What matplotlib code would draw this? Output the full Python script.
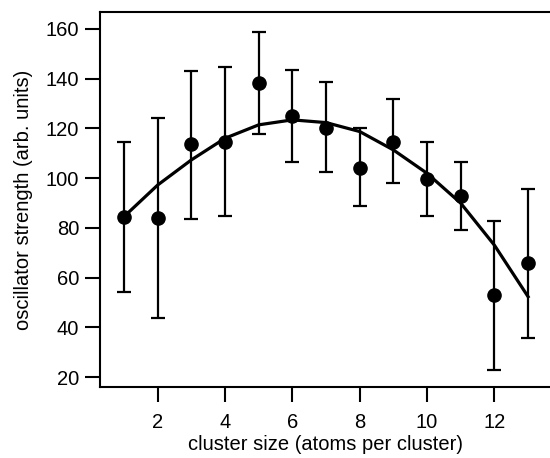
import matplotlib
matplotlib.use("Agg")
from matplotlib import pyplot as plt

plt.rcParams['font.family'] = ['Liberation Sans', 'DejaVu Sans']

cluster_size = [1, 2, 3, 4, 5, 6, 7, 8, 9, 10, 11, 12, 13]
strength = [84.5, 83.8, 113.6, 114.7, 138.1, 125.1, 120.3, 104.2, 114.7, 99.6, 92.8, 52.9, 65.7]
err_upper = [114.4, 124.1, 143.2, 144.6, 158.9, 143.5, 138.8, 120.0, 131.7, 114.4, 106.4, 82.9, 95.6]
err_lower = [54.3, 43.8, 83.4, 84.7, 117.6, 106.4, 102.6, 88.9, 97.9, 84.7, 79.1, 23.0, 35.8]
fit = [84.5, 97.2, 107.3, 116.0, 121.4, 123.4, 122.3, 118.7, 111.3, 101.9, 89.9, 73.0, 52.3]

yerr = [[s - lo for s, lo in zip(strength, err_lower)],
        [hi - s for s, hi in zip(strength, err_upper)]]

fig = plt.figure(figsize=(5.5, 4.58), dpi=100)
ax = fig.add_axes([0.182, 0.155, 0.818, 0.819])

ax.plot(cluster_size, fit, color='black', lw=2.3, zorder=2)
ax.errorbar(cluster_size, strength, yerr=yerr, fmt='o', color='black',
            ms=9.5, elinewidth=1.6, capsize=5, capthick=1.6, zorder=3)

ax.set_xlim(0.29, 13.65)
ax.set_ylim(16, 166.8)
ax.set_xticks([2, 4, 6, 8, 10, 12])
ax.set_yticks([20, 40, 60, 80, 100, 120, 140, 160])

ax.spines['right'].set_visible(False)
for s in ['left', 'bottom', 'top']:
    ax.spines[s].set_linewidth(1.5)
ax.tick_params(axis='x', direction='out', length=11, width=1.5, labelsize=14.5, pad=8)
ax.tick_params(axis='y', direction='out', length=11, width=1.5, labelsize=14.5, pad=4)

ax.set_xlabel("cluster size (atoms per cluster)", fontsize=14.5, labelpad=2)
ax.set_ylabel("oscillator strength (arb. units)", fontsize=14.5, labelpad=9)

fig.savefig("out.png", dpi=100)
